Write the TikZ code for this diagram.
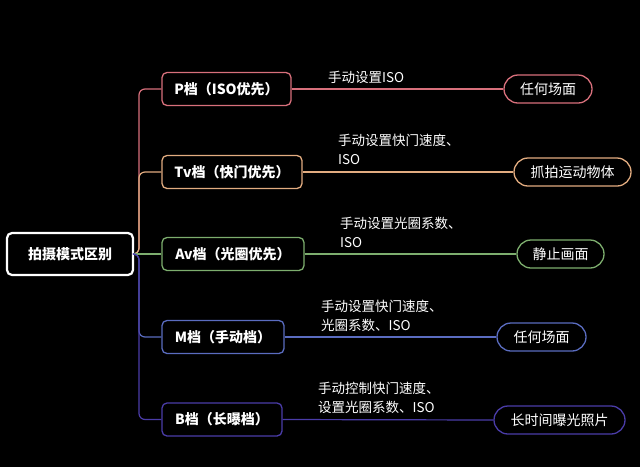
\documentclass[tikz,border=0pt]{standalone}
\usepackage{fontspec}
\setmainfont{Noto Sans CJK SC}
\definecolor{cp}{HTML}{D8707C}
\definecolor{ctv}{HTML}{E2AC80}
\definecolor{cav}{HTML}{7DAE6E}
\definecolor{cm}{HTML}{5A6CC0}
\definecolor{cb}{HTML}{4A3CA8}
\tikzset{
  rootbox/.style={draw=white, line width=2.2pt, rounded corners=5pt, fill=black, text=white,
    font=\fontsize{14}{16}\selectfont\bfseries, minimum width=126pt, minimum height=42pt, inner sep=0pt},
  modebox/.style={draw=#1, line width=1.3pt, rounded corners=5pt, fill=black, text=white,
    font=\fontsize{14}{16}\selectfont\bfseries, minimum height=33pt, inner sep=0pt},
  leafbox/.style={draw=#1, line width=1.3pt, rounded corners=14pt, fill=black, text=white,
    font=\fontsize{14}{16}\selectfont, minimum height=28pt, inner sep=0pt},
  note/.style={text=white, font=\fontsize{13.5}{19}\selectfont, align=left, inner sep=0pt, anchor=base west},
  link/.style={draw=#1, line width=1.2pt, rounded corners=6pt}
}
\begin{document}
\begin{tikzpicture}[x=1pt,y=-1pt]
\useasboundingbox[fill=black] (0,0) rectangle (640,467);
\coordinate (hub) at (139,254);
% nodes
\node[rootbox] (root) at (70,254) {拍摄模式区别};
\node[modebox=cp,  minimum width=129pt] (p)  at (226.5,89) {P档（ISO优先）};
\node[modebox=ctv, minimum width=140pt] (tv) at (232,172) {Tv档（快门优先）};
\node[modebox=cav, minimum width=142pt] (av) at (233,254) {Av档（光圈优先）};
\node[modebox=cm,  minimum width=122pt] (m)  at (223,337) {M档（手动档）};
\node[modebox=cb,  minimum width=120pt] (b)  at (222,419.5) {B档（长曝档）};
\node[leafbox=cp,  minimum width=88pt]  (pl)  at (548,89) {任何场面};
\node[leafbox=ctv, minimum width=117pt] (tvl) at (572.5,172) {抓拍运动物体};
\node[leafbox=cav, minimum width=87pt]  (avl) at (560.5,254) {静止画面};
\node[leafbox=cm,  minimum width=89pt]  (ml)  at (541.5,337) {任何场面};
\node[leafbox=cb,  minimum width=131pt] (bl)  at (559.5,420) {长时间曝光照片};
% notes (base = baseline of last line)
\node[note] (pn)  at (328,82)  {手动设置ISO};
\node[note] (tvn) at (338,164) {手动设置快门速度、\\ISO};
\node[note] (avn) at (340,247) {手动设置光圈系数、\\ISO};
\node[note] (mn)  at (321,330) {手动设置快门速度、\\光圈系数、ISO};
\node[note] (bn)  at (318,412) {手动控制快门速度、\\设置光圈系数、ISO};
% connectors
\draw[link=cp]  (root.east) -- (hub) |- (p.west);
\draw[link=ctv] (root.east) -- (hub) |- (tv.west);
\draw[link=cav] (root.east) -- (av.west);
\draw[link=cm]  (root.east) -- (hub) |- (m.west);
\draw[link=cb]  (root.east) -- (hub) |- (b.west);
\draw[link=cp]  (p.east) -- (pl.west);
\draw[link=ctv] (tv.east) -- (tvl.west);
\draw[link=cav] (av.east) -- (avl.west);
\draw[link=cm]  (m.east) -- (ml.west);
\draw[link=cb]  (b.east) -- (bl.west);
\end{tikzpicture}
\end{document}
